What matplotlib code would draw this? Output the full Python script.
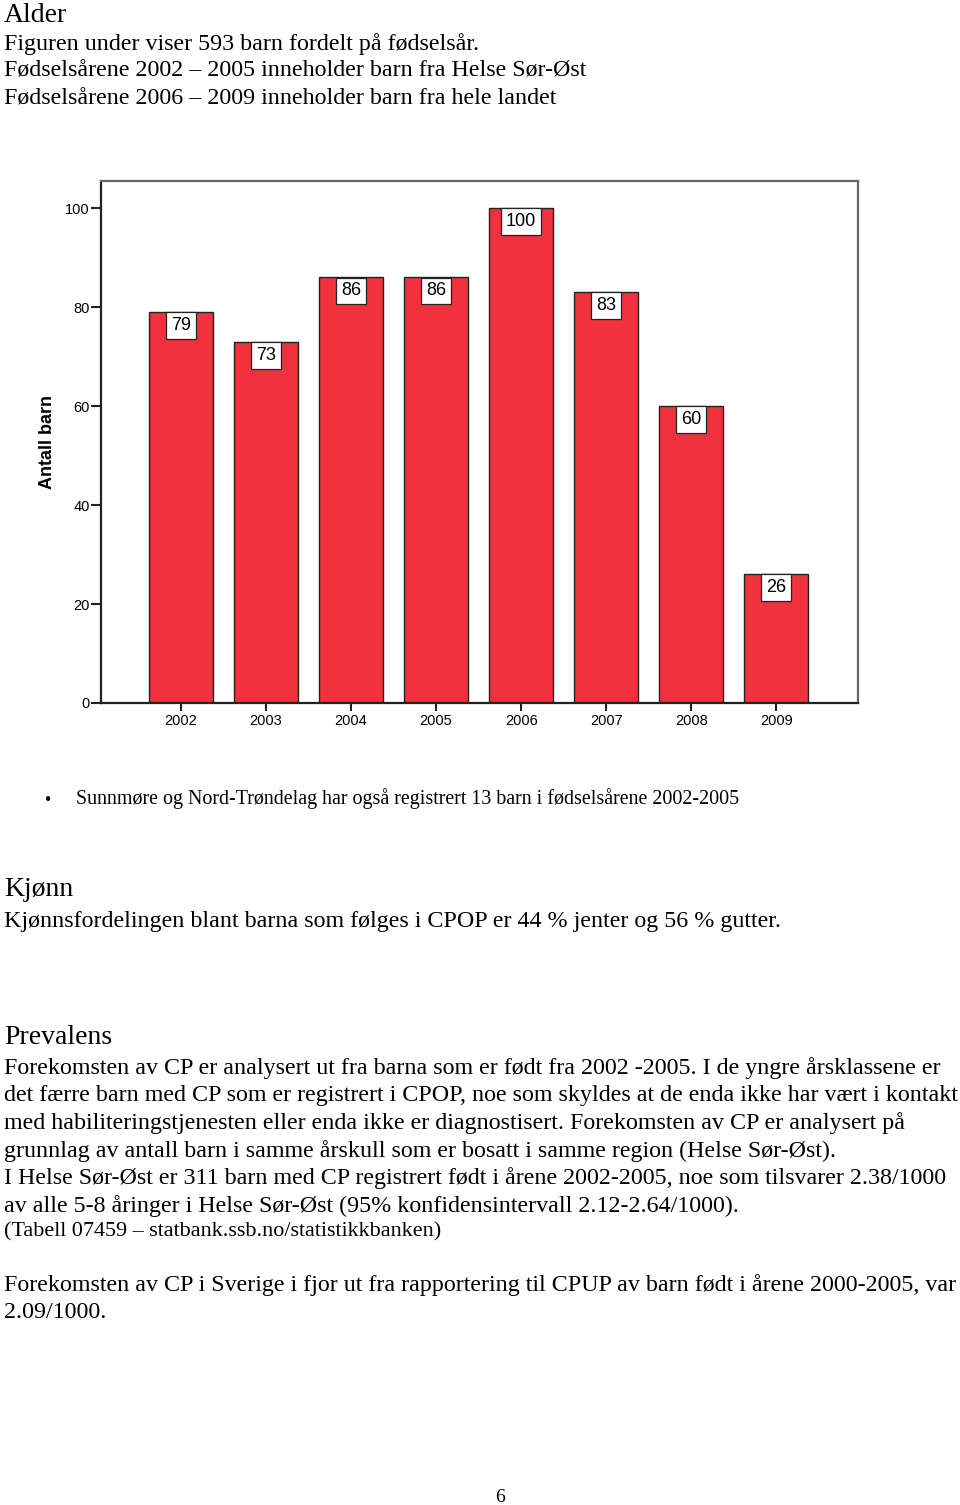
import numpy as np
import matplotlib.pyplot as plt

# data
years = ['2002', '2003', '2004', '2005', '2006', '2007', '2008', '2009']
counts = [79, 73, 86, 86, 100, 83, 60, 26]
yticks = [0, 20, 40, 60, 80, 100]

W, H = 960, 1505
fig = plt.figure(figsize=(W / 100, H / 100), dpi=100)
serif = 'Liberation Serif'
sans = 'Liberation Sans'
BODY = 17.25
HEAD = 20


def put(x, y, s, size=BODY, **kw):
    # place text by page pixel coordinates (y from top)
    fig.text(x / W, 1 - (y + 2) / H, s, fontsize=size, family=serif,
             va='center', ha=kw.pop('ha', 'left'), **kw)


# header text
put(4, 13, 'Alder', size=HEAD)
put(4, 42, 'Figuren under viser 593 barn fordelt på fødselsår.')
put(4, 69, 'Fødselsårene 2002 – 2005 inneholder barn fra Helse Sør-Øst')
put(4, 97, 'Fødselsårene 2006 – 2009 inneholder barn fra hele landet')

# bar chart
ax = fig.add_axes([101 / W, 1 - 703 / H, (858 - 101) / W, (703 - 181) / H])
x = np.arange(len(years))
ax.bar(x, counts, width=0.75, color='#EF323B', edgecolor='#222222', linewidth=1.0, zorder=2)
for xi, c in zip(x, counts):
    ax.annotate(str(c), (xi, c), xytext=(0, -3.6), textcoords='offset points',
                ha='center', va='top', fontsize=13, family=sans,
                bbox=dict(boxstyle='square,pad=0.27', fc='white', ec='#222222', lw=0.9),
                zorder=3)

ax.set_xlim(-0.94, 7.96)
ax.set_ylim(0, 105.5)
ax.set_xticks(x)
ax.set_xticklabels(years, family=sans, fontsize=10.5)
ax.set_yticks(yticks)
ax.set_yticklabels([str(t) for t in yticks], family=sans, fontsize=10.5)
ax.tick_params(axis='y', length=7, width=1.5, pad=1, color='#222222')
ax.tick_params(axis='x', length=6, width=1.5, pad=2, color='#222222')
for side in ['left', 'bottom']:
    ax.spines[side].set_color('#222222')
    ax.spines[side].set_linewidth(1.6)
for side in ['top', 'right']:
    ax.spines[side].set_color('#666666')
    ax.spines[side].set_linewidth(1.6)
fig.text(48 / W, 1 - 442 / H, 'Antall barn', rotation=90, fontsize=13,
         fontweight='bold', family=sans, ha='center', va='center')

# text below chart
put(45, 798, '•', size=13)
put(76, 797, 'Sunnmøre og Nord-Trøndelag har også registrert 13 barn i fødselsårene 2002-2005', size=14.4)

put(4, 888, 'Kjønn', size=HEAD)
put(4, 919, 'Kjønnsfordelingen blant barna som følges i CPOP er 44 % jenter og 56 % gutter.')

put(4, 1036, 'Prevalens', size=HEAD)
lines = [
    'Forekomsten av CP er analysert ut fra barna som er født fra 2002 -2005. I de yngre årsklassene er',
    'det færre barn med CP som er registrert i CPOP, noe som skyldes at de enda ikke har vært i kontakt',
    'med habiliteringstjenesten eller enda ikke er diagnostisert. Forekomsten av CP er analysert på',
    'grunnlag av antall barn i samme årskull som er bosatt i samme region (Helse Sør-Øst).',
    'I Helse Sør-Øst er 311 barn med CP registrert født i årene 2002-2005, noe som tilsvarer 2.38/1000',
    'av alle 5-8 åringer i Helse Sør-Øst (95% konfidensintervall 2.12-2.64/1000).',
]
for i, s in enumerate(lines):
    put(4, 1066 + i * 27.6, s)
put(4, 1230, '(Tabell 07459 – statbank.ssb.no/statistikkbanken)', size=15.9)

put(4, 1283, 'Forekomsten av CP i Sverige i fjor ut fra rapportering til CPUP av barn født i årene 2000-2005, var',
    size=17.3)
put(4, 1310, '2.09/1000.', size=17.3)

put(500, 1495, '6', size=14, ha='center')

fig.savefig('out.png', dpi=100)
